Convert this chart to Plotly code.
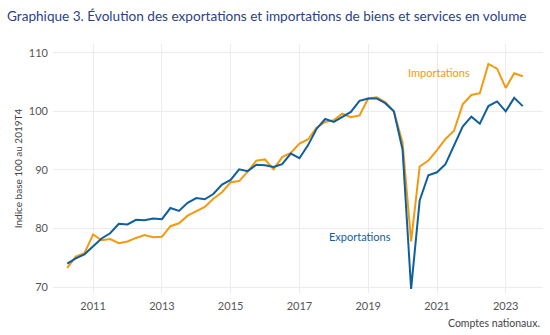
import plotly.graph_objects as go

# Quarterly volumes, index 2019Q4 = 100
quarters = [
    "2010-04-01", "2010-07-01", "2010-10-01",
    "2011-01-01", "2011-04-01", "2011-07-01", "2011-10-01",
    "2012-01-01", "2012-04-01", "2012-07-01", "2012-10-01",
    "2013-01-01", "2013-04-01", "2013-07-01", "2013-10-01",
    "2014-01-01", "2014-04-01", "2014-07-01", "2014-10-01",
    "2015-01-01", "2015-04-01", "2015-07-01", "2015-10-01",
    "2016-01-01", "2016-04-01", "2016-07-01", "2016-10-01",
    "2017-01-01", "2017-04-01", "2017-07-01", "2017-10-01",
    "2018-01-01", "2018-04-01", "2018-07-01", "2018-10-01",
    "2019-01-01", "2019-04-01", "2019-07-01", "2019-10-01",
    "2020-01-01", "2020-04-01", "2020-07-01", "2020-10-01",
    "2021-01-01", "2021-04-01", "2021-07-01", "2021-10-01",
    "2022-01-01", "2022-04-01", "2022-07-01", "2022-10-01",
    "2023-01-01", "2023-04-01", "2023-07-01",
]

exportations = [
    74.0, 74.9, 75.6,
    77.0, 78.3, 79.2, 80.8,
    80.7, 81.5, 81.4, 81.7,
    81.6, 83.5, 83.0, 84.4,
    85.2, 85.0, 85.9, 87.5,
    88.3, 90.1, 89.8, 90.9,
    90.8, 90.5, 91.0, 92.8,
    92.0, 94.2, 97.0, 98.7,
    98.2, 99.1, 99.9, 101.8,
    102.2, 102.2, 101.4, 100.0,
    93.5, 69.7, 84.8, 89.1,
    89.6, 91.0, 94.2, 97.4,
    99.1, 97.9, 100.9, 101.7,
    100.0, 102.3, 100.9,
]

importations = [
    73.3, 75.2, 75.8,
    79.0, 78.0, 78.2, 77.5,
    77.8, 78.4, 78.9, 78.5,
    78.6, 80.4, 80.9, 82.2,
    82.9, 83.7, 85.1, 86.2,
    87.9, 88.1, 89.7, 91.6,
    91.8, 90.1, 92.2, 92.9,
    94.5, 95.2, 97.2, 98.2,
    98.5, 99.6, 99.0, 99.3,
    102.2, 102.4, 101.6, 100.0,
    94.7, 77.8, 90.6, 91.6,
    93.4, 95.3, 96.7, 101.2,
    102.8, 103.1, 108.1, 107.3,
    104.0, 106.5, 106.0,
]

y_ticks = [70, 80, 90, 100, 110]

BLUE = "#0f5f9f"
ORANGE = "#f39a0f"
FONT = "Lato"

fig = go.Figure()
fig.add_trace(go.Scatter(
    x=quarters, y=importations, mode="lines", name="Importations",
    line=dict(color=ORANGE, width=2),
))
fig.add_trace(go.Scatter(
    x=quarters, y=exportations, mode="lines", name="Exportations",
    line=dict(color=BLUE, width=2),
))

fig.update_layout(
    width=550, height=335,
    margin=dict(l=53, r=7, t=44, b=42),
    paper_bgcolor="white", plot_bgcolor="white",
    showlegend=False,
    font=dict(family=FONT, size=11, color="#555555"),
    title=dict(
        text="Graphique 3. Évolution des exportations et importations de biens et services en volume",
        x=7 / 550, xref="container", xanchor="left",
        y=1 - 16 / 335, yref="container", yanchor="middle",
        font=dict(family=FONT, size=13.6, color="#2b3f8a"),
    ),
    xaxis=dict(
        type="date",
        range=["2009-11-01", "2024-02-01"],
        tick0="2011-01-01", dtick="M24", tickformat="%Y",
        showgrid=True, gridcolor="#ececec", gridwidth=1,
        zeroline=False, showline=False, ticks="",
        ticklabelstandoff=5,
        tickfont=dict(size=11, color="#555555"),
    ),
    yaxis=dict(
        range=[69, 111.5],
        tickvals=y_ticks,
        showgrid=True, gridcolor="#ececec", gridwidth=1,
        zeroline=False, showline=False, ticks="",
        ticklabelstandoff=4,
        tickfont=dict(size=11, color="#555555"),
        title=dict(text="Indice base 100 au 2019T4", standoff=4,
                   font=dict(size=10, color="#444444")),
    ),
    annotations=[
        dict(x="2021-01-20", y=106.6, xref="x", yref="y", text="Importations",
             showarrow=False, font=dict(family=FONT, size=11, color=ORANGE)),
        dict(x="2018-10-05", y=78.6, xref="x", yref="y", text="Exportations",
             showarrow=False, font=dict(family=FONT, size=11, color=BLUE)),
        dict(x=1, y=0, xref="paper", yref="paper", xanchor="right", yanchor="top",
             yshift=-22, xshift=-1, text="Comptes nationaux.", showarrow=False,
             font=dict(family=FONT, size=10.5, color="#444444")),
    ],
)

fig.write_html("out.html")
